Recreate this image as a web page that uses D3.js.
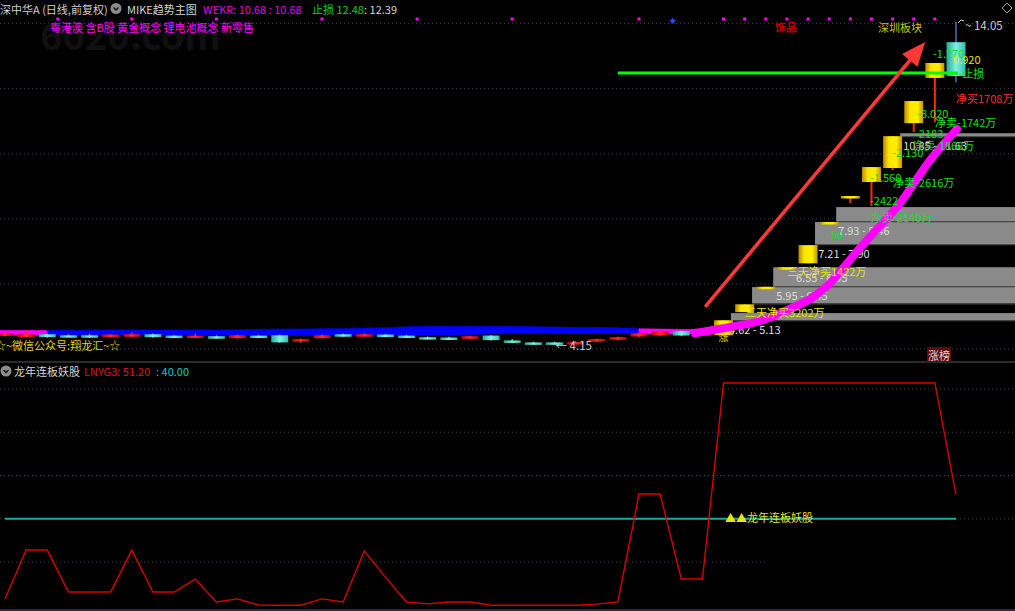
<!DOCTYPE html>
<html><head><meta charset="utf-8">
<script src="https://cdn.jsdelivr.net/npm/d3@7"></script>
<style>
html,body{margin:0;padding:0;background:#000;overflow:hidden}
svg{display:block}
text{font-family:"Noto Sans CJK SC","Noto Sans",sans-serif;font-size:11px}
</style>
</head><body>
<svg id="c" width="1015" height="611"></svg>
<script>
// ---------------- DATA ----------------
const barIndex = d3.range(46);
const candleOpen  = [4.40,4.36,4.45,4.42,4.42,4.40,4.39,4.45,4.41,4.39,4.39,4.33,4.41,4.42,4.24,4.33,4.45,4.42,4.44,4.41,4.36,4.35,4.31,4.41,4.26,4.20,4.20,4.19,4.24,4.28,4.38,4.41,4.55,4.45,4.42,5.13,5.88,6.49,6.63,7.87,8.63,9.13,9.56,10.94,12.33,13.43];
const candleHigh  = [4.50,4.57,4.47,4.45,4.46,4.46,4.51,4.47,4.43,4.48,4.42,4.44,4.43,4.44,4.32,4.44,4.47,4.48,4.46,4.43,4.38,4.37,4.41,4.43,4.30,4.22,4.22,4.24,4.32,4.38,4.50,4.55,4.57,4.62,4.88,5.37,5.91,6.51,7.19,7.90,8.70,9.59,10.54,11.62,12.79,14.05];
const candleLow   = [4.38,4.35,4.34,4.37,4.34,4.38,4.37,4.34,4.37,4.37,4.31,4.31,4.37,4.19,4.18,4.31,4.37,4.40,4.40,4.34,4.31,4.30,4.29,4.25,4.17,4.16,4.16,4.15,4.22,4.26,4.36,4.39,4.39,4.44,4.42,5.13,5.88,6.49,6.63,7.87,8.48,8.39,9.50,10.67,10.97,12.20];
const candleClose = [4.48,4.45,4.36,4.39,4.37,4.44,4.45,4.36,4.39,4.41,4.33,4.42,4.39,4.20,4.30,4.42,4.39,4.45,4.42,4.36,4.33,4.32,4.39,4.27,4.23,4.18,4.17,4.21,4.30,4.36,4.48,4.53,4.41,4.48,4.88,5.37,5.91,6.51,7.19,7.90,8.70,9.59,10.54,11.62,12.79,12.39];
// r = up, c = down, y = limit-up
const candleType  = ["r","r","c","c","c","r","r","c","c","r","c","r","c","c","r","r","c","r","c","c","c","c","r","c","c","c","c","r","r","r","r","r","c","r","y","y","y","y","y","y","y","y","y","y","y","c"];

// MIKE band (price) per bar 0..33
const bandTop = [4.565,4.565,4.565,4.57,4.57,4.58,4.58,4.58,4.58,4.58,4.58,4.59,4.60,4.61,4.61,4.62,4.62,4.64,4.65,4.68,4.69,4.69,4.69,4.69,4.69,4.68,4.67,4.66,4.66,4.65,4.62,4.61,4.60,4.60];
const bandBot = [4.43,4.43,4.43,4.43,4.43,4.43,4.43,4.43,4.43,4.43,4.43,4.43,4.43,4.43,4.43,4.43,4.43,4.43,4.43,4.43,4.43,4.43,4.44,4.46,4.47,4.47,4.47,4.47,4.47,4.47,4.46,4.46,4.46,4.46];
const bandState = ["u","u","d","d","d","d","d","d","d","d","d","d","d","d","d","d","d","d","d","d","d","d","d","d","d","d","d","d","d","d","u","u","u","u"];

// chip zones
const zoneLow   = [4.88,5.40,5.93,7.22,7.93,10.54];
const zoneHigh  = [5.10,5.90,6.51,7.90,8.36,10.63];
const zoneStart = [34.35,35.35,36.35,38.33,39.33,42.36];
const rangeText  = ["4.62 - 5.13","5.95 - 6.45","6.55 - 6.95","7.21 - 7.90","7.93 - 8.46","10.85 - 11.63"];
const rangeIdx   = [34.26,36.49,37.43,38.48,39.42,42.50];
const rangePrice = [4.61,5.66,6.21,6.95,7.65,10.27];

// flow labels
const flowText  = ["-1.270","0.920","---止损","净买1708万","-3.020","净卖-1742万","-2183","净卖-1868万","-2.130","-1.560","净卖-2616万","-2422","净卖-2140万","-50","三天净买1422万","三天净买3202万"];
const flowIdx   = [43.91,44.86,44.76,45.0,43.16,44.01,43.06,42.97,41.97,40.93,42.02,40.93,40.98,38.90,37.0,35.02];
const flowPrice = [13.10,12.91,12.48,11.71,11.25,10.98,10.64,10.27,10.05,9.28,9.13,8.58,8.05,7.53,6.39,5.13];
const flowKind  = ["sell","note","sell","buy","sell","sell","sell","sell","sell","sell","sell","sell","sell","sell","note","note"];

// trend curve (index, price)
const curveIdx   = [32.65,34.31,35.73,36.91,38.10,38.95,39.66,40.46,41.27,42.36,43.78,45.05];
const curvePrice = [4.487,4.672,4.857,5.165,5.533,5.964,6.487,7.102,7.686,8.485,9.808,10.76];
const arrowFrom = [33.13,5.29];
const arrowTo   = [43.54,13.435];
const stopLoss = 12.48, stopFrom = 29.0, stopTo = 45.1;
const highPrice = 14.05, lowPrice = 4.15, lowIdx = 26.05;

const gridPrices = [4,6,8,10,12,14];
const dotIdx = [2.5,6,10,15,19.5,24,30,34,35,36,37,38,39,40,41,42,43,44];
const starIdx = 31.6;

// lower panel
const lnyg = [2.9,25.5,25.5,6.1,6.1,6.1,25.5,6.1,6.1,12.1,1.5,2.9,0.1,0,0,2.9,1.5,25.1,13.0,1.5,0.6,1.5,1.5,0,0,0,0,0,0.5,1.5,51.4,51.4,12.1,12.1,102.8,102.8,102.8,102.8,102.8,102.8,102.8,102.8,102.8,102.8,102.8,51.2];
const lnygLevel = 40;
const lowerGrid = [20,60,80,100];

// ---------------- SCALES ----------------
const W = 1015, H = 611;
const xs = d3.scaleLinear().domain([0,45]).range([5,956]);
const yp = d3.scaleLinear().domain([lowPrice,highPrice]).range([344,22]);
const yl = d3.scaleLinear().domain([0,100]).range([605.2,389]);

const svg = d3.select("#c");
svg.append("rect").attr("width",W).attr("height",H).attr("fill","#000");
const defs = svg.append("defs");
function hgrad(id, stops){
  const g = defs.append("linearGradient").attr("id",id).attr("x1",0).attr("x2",1).attr("y1",0).attr("y2",0);
  stops.forEach(([o,c])=>g.append("stop").attr("offset",o).attr("stop-color",c));
}
hgrad("gy",[[0,"#b88a00"],[0.3,"#ffe400"],[0.7,"#fff000"],[1,"#c49400"]]);
hgrad("gc",[[0,"#22a898"],[0.5,"#80f2e2"],[1,"#2cc0b0"]]);
hgrad("gr",[[0,"#c80000"],[0.5,"#ff2a2a"],[1,"#c80000"]]);

defs.append("clipPath").attr("id","ct")
  .append("rect").attr("x",0).attr("y",15).attr("width",W).attr("height",346);

// ---------------- TOP PANEL ----------------
svg.append("g").selectAll("line").data(gridPrices).join("line")
  .attr("x1",0).attr("x2",W).attr("y1",d=>yp(d)).attr("y2",d=>yp(d))
  .attr("stroke","#3c3c55").attr("stroke-dasharray","1,3");

svg.append("text").attr("x",40).attr("y",50).text("6020.com")
  .style("font-size","38px").style("font-weight","bold").attr("fill","#101010");

svg.append("line").attr("x1",0).attr("x2",W).attr("y1",362).attr("y2",362).attr("stroke","#3a3a3a").attr("stroke-width",1.5);
svg.append("line").attr("x1",0).attr("x2",W).attr("y1",610).attr("y2",610).attr("stroke","#2e2e38").attr("stroke-width",2);

const topG = svg.append("g").attr("clip-path","url(#ct)");

// MIKE band
const bandPts = bandTop.map((t,i)=>({i, t, b: bandBot[i], s: bandState[i]}));
bandPts.unshift({i:-0.3, t:bandTop[0], b:bandBot[0], s:bandState[0]});
for (let k=0;k<bandPts.length-1;k++){
  const a = bandPts[k], b = bandPts[k+1];
  topG.append("path")
    .attr("d", d3.area().x(d=>xs(d.i)).y0(d=>yp(d.b)).y1(d=>yp(d.t))([a,b]))
    .attr("fill", a.s==="u" ? "#ff00ff" : "#0000ff")
    .attr("stroke", a.s==="u" ? "#ff00ff" : "#0000ff").attr("stroke-width",0.6);
}

// chip zones
const zones = zoneLow.map((lo,k)=>({lo, hi: zoneHigh[k], s: zoneStart[k]}));
topG.selectAll("rect.zone").data(zones).join("rect").attr("class","zone")
  .attr("x",d=>xs(d.s)).attr("width",d=>W-xs(d.s))
  .attr("y",d=>yp(d.hi)).attr("height",d=>Math.max(2.5, yp(d.lo)-yp(d.hi)))
  .attr("fill","#8a8a8a");
topG.selectAll("line.zb").data(zones).join("line").attr("class","zb")
  .attr("x1",d=>xs(d.s)).attr("x2",W).attr("y1",d=>yp(d.lo)+0.5).attr("y2",d=>yp(d.lo)+0.5)
  .attr("stroke","#4a4a4a").attr("stroke-width",1.2);

topG.selectAll("text.rng").data(rangeText).join("text").attr("class","rng")
  .attr("x",(d,k)=>xs(rangeIdx[k])).attr("y",(d,k)=>yp(rangePrice[k]))
  .attr("dominant-baseline","central").attr("fill","#dcdcdc").text(d=>d);

// candles
const candles = barIndex.map(i=>({i,o:candleOpen[i],h:candleHigh[i],l:candleLow[i],c:candleClose[i],t:candleType[i]}));
const cg = topG.append("g");
const wickCol = t => t==="y" ? "#ff2a00" : t==="r" ? "#ff2020" : "#38c8b8";
cg.selectAll("line.wick").data(candles).join("line").attr("class","wick")
  .attr("x1",d=>xs(d.i)).attr("x2",d=>xs(d.i))
  .attr("y1",d=>yp(d.h)).attr("y2",d=>yp(d.l))
  .attr("stroke",d=> d.i===45 ? "#4a8ad0" : wickCol(d.t))
  .attr("stroke-width",d=>d.t==="y"?2:1.3);
cg.selectAll("rect.body").data(candles).join("rect").attr("class","body")
  .attr("x",d=>xs(d.i)-(d.i>=34?9.5:8.5)).attr("width",d=>d.i>=34?19:17)
  .attr("y",d=>yp(Math.max(d.o,d.c)))
  .attr("height",d=>Math.max(2.5, Math.abs(yp(d.o)-yp(d.c))))
  .attr("fill",d=>d.t==="y"?"url(#gy)":d.t==="r"?"url(#gr)":"url(#gc)");

topG.append("text").attr("x",xs(34)).attr("y",yp(4.37)).attr("text-anchor","middle")
  .attr("dominant-baseline","central").attr("fill","#e6c800").style("font-size","10px").text("涨");

// stop-loss line
topG.append("line").attr("x1",xs(stopFrom)).attr("x2",xs(stopTo))
  .attr("y1",yp(stopLoss)).attr("y2",yp(stopLoss))
  .attr("stroke","#00ff00").attr("stroke-width",3);

// red arrow
{
  const x0 = xs(arrowFrom[0]), y0 = yp(arrowFrom[1]), x1 = xs(arrowTo[0]), y1 = yp(arrowTo[1]);
  const dx = x1-x0, dy = y1-y0, len = Math.hypot(dx,dy), ux = dx/len, uy = dy/len;
  const hl = 24, hw = 10;
  const bx = x1-ux*hl, by = y1-uy*hl;
  topG.append("line").attr("x1",x0).attr("y1",y0).attr("x2",bx+ux*2).attr("y2",by+uy*2)
    .attr("stroke","#ff3838").attr("stroke-width",3.5);
  topG.append("path").attr("d",`M${x1},${y1}L${bx-uy*hw},${by+ux*hw}L${bx+uy*hw},${by-ux*hw}Z`)
    .attr("fill","#ff3838");
}

// magenta trend curve
topG.append("path")
  .attr("d", d3.line().x(d=>xs(d[0])).y(d=>yp(d[1])).curve(d3.curveCatmullRom)(curveIdx.map((v,k)=>[v,curvePrice[k]])))
  .attr("fill","none").attr("stroke","#ff00ff").attr("stroke-width",8).attr("stroke-linecap","round");

// flow labels
const flowCol = {sell:"#12e012", buy:"#ff2a2a", note:"#e6e600"};
topG.selectAll("text.flow").data(flowText).join("text").attr("class","flow")
  .attr("x",(d,k)=>xs(flowIdx[k])).attr("y",(d,k)=>yp(flowPrice[k]))
  .attr("dominant-baseline","central").attr("fill",(d,k)=>flowCol[flowKind[k]]).text(d=>d);

// high / low labels
topG.append("path").attr("d",`M${xs(45)+2},${yp(highPrice)+1}l3,-3l3,1`).attr("stroke","#cfcfcf").attr("fill","none");
topG.append("text").attr("x",xs(45)+9).attr("y",yp(highPrice)+3).attr("dominant-baseline","central")
  .attr("fill","#cfcfcf").style("font-size","11.5px").text("~ " + highPrice.toFixed(2));
topG.append("text").attr("x",xs(lowIdx)).attr("y",yp(lowPrice)+1).attr("dominant-baseline","central")
  .attr("fill","#cfcfcf").style("font-size","11.5px").text("← " + lowPrice.toFixed(2));

topG.append("text").attr("x",-5).attr("y",345).attr("dominant-baseline","central")
  .attr("fill","#e0d800").text("☆~微信公众号:翔龙汇~☆");

// 涨榜 tag
svg.append("rect").attr("x",927).attr("y",347).attr("width",24).attr("height",15).attr("fill","#5c0c0c");
svg.append("text").attr("x",939).attr("y",355).attr("text-anchor","middle").attr("dominant-baseline","central")
  .attr("fill","#ecd0d0").text("涨榜");

// dots row
svg.selectAll("rect.dot").data(dotIdx).join("rect").attr("class","dot")
  .attr("x",d=>xs(d)-1.5).attr("y",17.5).attr("width",3).attr("height",3).attr("fill","#ff00ff");
svg.append("text").attr("x",xs(starIdx)).attr("y",19.5).attr("text-anchor","middle").attr("dominant-baseline","central")
  .attr("fill","#3050ff").style("font-size","8px").text("★");

svg.append("text").attr("x",50).attr("y",27).attr("dominant-baseline","central").attr("fill","#ff00ff")
  .text("粤港澳 含B股 黄金概念 锂电池概念 新零售");
svg.append("text").attr("x",775).attr("y",27).attr("dominant-baseline","central").attr("fill","#e00000").text("饰品");
svg.append("text").attr("x",878).attr("y",27).attr("dominant-baseline","central").attr("fill","#c8c400").text("深圳板块");

// header
const hy = 8.5;
svg.append("text").attr("x",0).attr("y",hy).attr("dominant-baseline","central").attr("fill","#cfcfcf").text("深中华A (日线,前复权)");
function icon(cx,cy){
  svg.append("circle").attr("cx",cx).attr("cy",cy).attr("r",5.5).attr("fill","#8c8c8c");
  svg.append("path").attr("d",`M${cx-2.5},${cy-1}l2.5,2.5l2.5,-2.5`).attr("stroke","#111").attr("stroke-width",1.4).attr("fill","none");
}
icon(116,hy);
svg.append("text").attr("x",127).attr("y",hy).attr("dominant-baseline","central").attr("fill","#d6d6d6").text("MIKE趋势主图");
svg.append("text").attr("x",203).attr("y",hy).attr("dominant-baseline","central").attr("fill","#e000e0").text("WEKR: 10.68 : 10.68");
svg.append("text").attr("x",312).attr("y",hy).attr("dominant-baseline","central").attr("fill","#10d010").text("止损 12.48");
svg.append("text").attr("x",364).attr("y",hy).attr("dominant-baseline","central").attr("fill","#d6d6d6").text(": 12.39");
svg.append("path").attr("d","M1007,3l5,5l-5,5l-5,-5z").attr("fill","none").attr("stroke","#9a9a9a");

// ---------------- LOWER PANEL ----------------
icon(6,371);
svg.append("text").attr("x",14).attr("y",371).attr("dominant-baseline","central").attr("fill","#d6d6d6").text("龙年连板妖股");
svg.append("text").attr("x",84).attr("y",371).attr("dominant-baseline","central").attr("fill","#e01010").text("LNYG3: 51.20");
svg.append("text").attr("x",156).attr("y",371).attr("dominant-baseline","central").attr("fill","#10c8c8").text(": 40.00");

svg.append("g").selectAll("line").data(lowerGrid).join("line")
  .attr("x1",0).attr("x2",d=>d===20?768:W).attr("y1",d=>yl(d)).attr("y2",d=>yl(d))
  .attr("stroke","#3c3c55").attr("stroke-dasharray","1,3");
svg.append("line").attr("x1",0).attr("x2",W).attr("y1",yl(lnygLevel)).attr("y2",yl(lnygLevel))
  .attr("stroke","#3c3c55").attr("stroke-dasharray","1,3");
svg.append("line").attr("x1",xs(0)).attr("x2",xs(45)).attr("y1",yl(lnygLevel)).attr("y2",yl(lnygLevel))
  .attr("stroke","#1aa8a8").attr("stroke-width",2);
svg.append("path").attr("d",d3.line().x((d,i)=>xs(i)).y(d=>yl(d))(lnyg))
  .attr("fill","none").attr("stroke","#d80000").attr("stroke-width",1.4);
svg.append("text").attr("x",xs(34.07)).attr("y",yl(41)).attr("dominant-baseline","central")
  .attr("fill","#e6e600").text("▲▲龙年连板妖股");
</script>
</body></html>
